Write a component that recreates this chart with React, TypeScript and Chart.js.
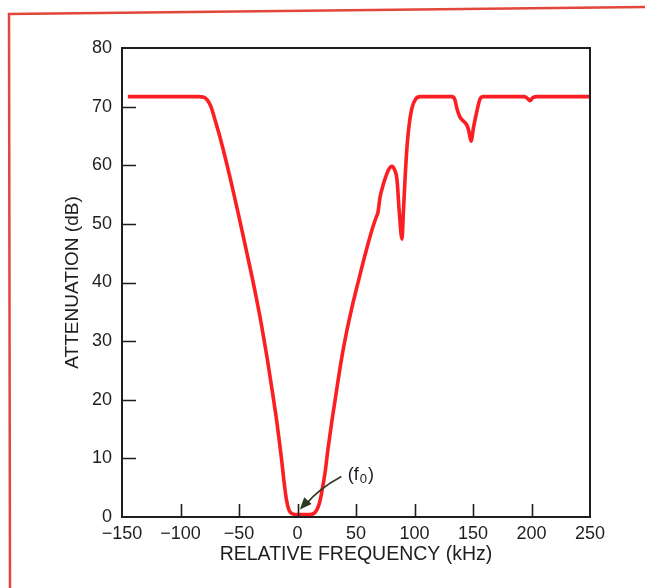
import React, { useEffect, useRef } from 'react';
import { Chart, registerables } from 'chart.js';

Chart.register(...registerables);

// Relative frequency (kHz) and attenuation (dB)
const freqKHz = [
  -145, -110, -85, -80, -77, -74, -70, -66, -58, -50, -43, -36, -31, -26, -21.5, -17.5, -14, -11.5, -9.5, -7.5, -5,
  0, 5, 10, 14, 16.5, 18.5, 20.5, 23.5, 26, 29.5, 34, 38, 42, 46.6, 51, 56, 60, 63.7, 67, 68.8, 70.5, 73, 75, 78,
  80.8, 83, 85, 87, 89.3, 90.5, 91.9, 93.6, 95.5, 97.9, 101, 105, 120, 132, 134.5, 136.5, 138.9, 142, 144.9, 146.5,
  148.3, 150.5, 153.4, 156, 159, 175, 194, 196.5, 198.7, 201, 205, 225, 250,
];
const attenuationDB = [
  71.7, 71.7, 71.7, 71.6, 71.1, 70.0, 67.4, 64.6, 58.2, 51.2, 44.8, 38.2, 33.0, 27.2, 21.4, 16.0, 10.5, 6.0, 3.0, 1.3, 0.6,
  0.4, 0.4, 0.4, 0.6, 1.2, 2.2, 4.0, 7.5, 11.5, 16.5, 22.4, 27.4, 31.6, 35.8, 39.4, 43.4, 46.4, 49.0, 51.0, 52.0, 54.5, 56.5, 57.8, 59.3,
  59.8, 59.2, 57.6, 52.0, 47.4, 52.0, 57.6, 63.2, 67.0, 69.8, 71.3, 71.7, 71.7, 71.7, 71.2, 69.5, 68.2, 67.5, 66.8, 65.8,
  64.1, 66.5, 69.3, 71.3, 71.7, 71.7, 71.7, 71.4, 71.0, 71.5, 71.7, 71.7, 71.7,
];

const xTickValues = [-150, -100, -50, 0, 50, 100, 150, 200, 250];
const yTickValues = [0, 10, 20, 30, 40, 50, 60, 70, 80];
const xInnerTicks = [-100, -50, 0, 50, 100, 150, 200];
const yInnerTicks = [10, 20, 30, 40, 50, 60, 70];

const xTitle = 'RELATIVE FREQUENCY (kHz)';
const yTitle = 'ATTENUATION (dB)';

// annotation "(f0)" in data units
const labelAt = [43, 7.2];
const arrowFrom = [37.5, 6.9];
const arrowCtrl = [18, 4.8];
const arrowTo = [2, 1.3];

const FONT = "'Liberation Sans', Arial, Helvetica, sans-serif";
const INK = '#1e1e1e';

const decorPlugin = {
  id: 'decor',
  beforeDraw(chart: any) {
    const ctx = chart.ctx;
    ctx.save();
    ctx.strokeStyle = '#e2463c';
    ctx.lineWidth = 2.5;
    ctx.beginPath();
    ctx.moveTo(645, 7);
    ctx.lineTo(9, 14);
    ctx.lineTo(10, 588);
    ctx.stroke();
    ctx.restore();
  },
  afterDatasetsDraw(chart: any) {
    const { ctx, chartArea: a, scales } = chart;
    const x = scales.x;
    const y = scales.y;
    ctx.save();
    ctx.strokeStyle = INK;
    ctx.lineWidth = 2;
    ctx.strokeRect(a.left, a.top, a.right - a.left, a.bottom - a.top);
    ctx.lineWidth = 1.6;
    ctx.beginPath();
    for (const v of yInnerTicks) {
      const py = Math.round(y.getPixelForValue(v)) + 0.5;
      ctx.moveTo(a.left, py);
      ctx.lineTo(a.left + 14, py);
    }
    for (const v of xInnerTicks) {
      const px = Math.round(x.getPixelForValue(v)) + 0.5;
      ctx.moveTo(px, a.bottom);
      ctx.lineTo(px, a.bottom - 13);
    }
    ctx.stroke();

    // annotation arrow
    const sx = x.getPixelForValue(arrowFrom[0]);
    const sy = y.getPixelForValue(arrowFrom[1]);
    const cx = x.getPixelForValue(arrowCtrl[0]);
    const cy = y.getPixelForValue(arrowCtrl[1]);
    const tx = x.getPixelForValue(arrowTo[0]);
    const ty = y.getPixelForValue(arrowTo[1]);
    ctx.strokeStyle = '#2c3a22';
    ctx.fillStyle = '#2c3a22';
    ctx.lineWidth = 1.6;
    ctx.beginPath();
    ctx.moveTo(sx, sy);
    ctx.quadraticCurveTo(cx, cy, tx + 6, ty - 5);
    ctx.stroke();
    const ang = Math.atan2(ty - cy, tx - cx);
    const L = 12;
    const W = 5;
    ctx.beginPath();
    ctx.moveTo(tx, ty);
    ctx.lineTo(tx - L * Math.cos(ang) + W * Math.sin(ang), ty - L * Math.sin(ang) - W * Math.cos(ang));
    ctx.lineTo(tx - L * Math.cos(ang) - W * Math.sin(ang), ty - L * Math.sin(ang) + W * Math.cos(ang));
    ctx.closePath();
    ctx.fill();

    // label (f0)
    const lx = x.getPixelForValue(labelAt[0]);
    const ly = y.getPixelForValue(labelAt[1]);
    ctx.fillStyle = INK;
    ctx.textBaseline = 'middle';
    ctx.textAlign = 'left';
    ctx.font = `18px ${FONT}`;
    const p1 = '(f';
    ctx.fillText(p1, lx, ly);
    let w = ctx.measureText(p1).width;
    ctx.font = `13px ${FONT}`;
    ctx.fillText('0', lx + w + 1, ly + 5);
    w += ctx.measureText('0').width + 2;
    ctx.font = `18px ${FONT}`;
    ctx.fillText(')', lx + w, ly);
    ctx.restore();
  },
};

export default function App() {
  const ref = useRef<HTMLCanvasElement | null>(null);

  useEffect(() => {
    document.body.style.margin = '0';
    document.body.style.overflow = 'hidden';
    Chart.defaults.font.family = FONT;
    const canvas = ref.current;
    if (!canvas) return;
    const points = freqKHz.map((f, i) => ({ x: f, y: attenuationDB[i] }));
    const chart = new Chart(canvas, {
      type: 'line',
      data: {
        datasets: [
          {
            data: points,
            borderColor: '#fb1e22',
            borderWidth: 3.6,
            pointRadius: 0,
            cubicInterpolationMode: 'monotone',
            fill: false,
          },
        ],
      },
      options: {
        animation: false,
        responsive: false,
        devicePixelRatio: 1,
        layout: { padding: { left: 0, top: 48, right: 55, bottom: 0 } },
        plugins: { legend: { display: false }, tooltip: { enabled: false } },
        scales: {
          x: {
            type: 'linear',
            min: -150,
            max: 250,
            afterBuildTicks: (s: any) => {
              s.ticks = xTickValues.map((v) => ({ value: v }));
            },
            afterFit: (s: any) => {
              s.height = 71;
            },
            grid: { display: false, drawTicks: false },
            border: { display: false },
            ticks: {
              color: INK,
              font: { size: 18 },
              padding: 6,
              maxRotation: 0,
              autoSkip: false,
              callback: (v: any) => String(v).replace('-', '\u2212'),
            },
            title: {
              display: true,
              text: xTitle,
              color: INK,
              font: { size: 19.5 },
              padding: 22,
            },
          },
          y: {
            min: 0,
            max: 80,
            afterBuildTicks: (s: any) => {
              s.ticks = yTickValues.map((v) => ({ value: v }));
            },
            afterFit: (s: any) => {
              s.width = 122;
            },
            grid: { display: false, drawTicks: false },
            border: { display: false },
            ticks: { color: INK, font: { size: 18 }, padding: 10 },
            title: {
              display: true,
              text: yTitle,
              color: INK,
              font: { size: 19 },
              padding: 61,
            },
          },
        },
      },
      plugins: [decorPlugin],
    });
    return () => chart.destroy();
  }, []);

  return <canvas ref={ref} width={645} height={588} style={{ display: 'block' }} />;
}
